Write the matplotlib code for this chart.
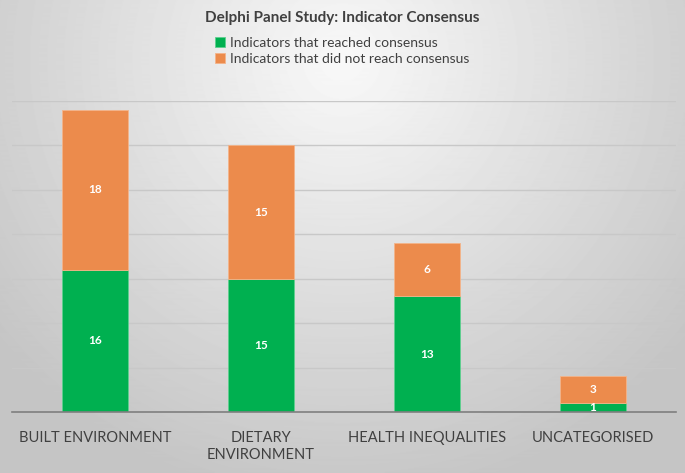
import matplotlib.pyplot as plt
import numpy as np

categories = ['BUILT ENVIRONMENT', 'DIETARY\nENVIRONMENT', 'HEALTH INEQUALITIES', 'UNCATEGORISED']
reached = [16, 15, 13, 1]
not_reached = [18, 15, 6, 3]

green = '#00B050'
orange = '#EC8B4C'
text_col = '#404040'

plt.rcParams['font.family'] = ['Lato', 'DejaVu Sans']

fig = plt.figure(figsize=(6.85, 4.73), dpi=100)

# radial gradient background
bg = fig.add_axes([0, 0, 1, 1], zorder=0)
yy, xx = np.mgrid[0:473, 0:685]
d = np.sqrt(((xx - 342) / 480.0) ** 2 + ((yy - 60) / 480.0) ** 2)
shade = np.clip(0.975 - 0.22 * d, 0.77, 1.0)
bg.imshow(shade, cmap='gray', vmin=0, vmax=1, aspect='auto', extent=[0, 1, 0, 1])
bg.set_axis_off()

ax = fig.add_axes([12 / 685, 61 / 473, 664 / 685, 311 / 473], zorder=1)
ax.patch.set_alpha(0)
x = np.arange(len(categories))
w = 0.4
b1 = ax.bar(x, reached, w, color=green, edgecolor='#5fd08f', linewidth=0.6,
            label='Indicators that reached consensus', zorder=2)
b2 = ax.bar(x, not_reached, w, bottom=reached, color=orange, edgecolor='#f4b48a',
            linewidth=0.6, label='Indicators that did not reach consensus', zorder=2)

for i in range(len(x)):
    ax.text(x[i], reached[i] / 2, str(reached[i]), ha='center', va='center',
            color='white', fontsize=8.5, fontweight='bold', zorder=3)
    ax.text(x[i], reached[i] + not_reached[i] / 2, str(not_reached[i]), ha='center',
            va='center', color='white', fontsize=8.5, fontweight='bold', zorder=3)

ax.set_xlim(-0.5, 3.5)
ax.set_ylim(0, 35)
ax.set_yticks(np.arange(0, 36, 5))
ax.yaxis.grid(True, color='#c8c8c8', linewidth=1)
ax.set_axisbelow(True)
ax.tick_params(axis='y', left=False, labelleft=False)
ax.tick_params(axis='x', bottom=False, pad=10)
ax.set_xticks(x)
ax.set_xticklabels(categories, fontsize=10.5, color=text_col, linespacing=1.3)
for s in ['top', 'right', 'left']:
    ax.spines[s].set_visible(False)
ax.spines['bottom'].set_color('#7f7f7f')
ax.spines['bottom'].set_linewidth(1.2)

fig.text(0.5, 0.962, 'Delphi Panel Study: Indicator Consensus', ha='center', va='center',
         fontsize=11, fontweight='bold', color=text_col)
leg = fig.legend(handles=[b1, b2], loc='center', bbox_to_anchor=(0.5, 0.893), ncol=1,
                 frameon=False, fontsize=10, handlelength=0.7, handleheight=0.7,
                 handletextpad=0.4, labelspacing=0.3)
for t in leg.get_texts():
    t.set_color(text_col)

fig.savefig('out.png', dpi=100)
